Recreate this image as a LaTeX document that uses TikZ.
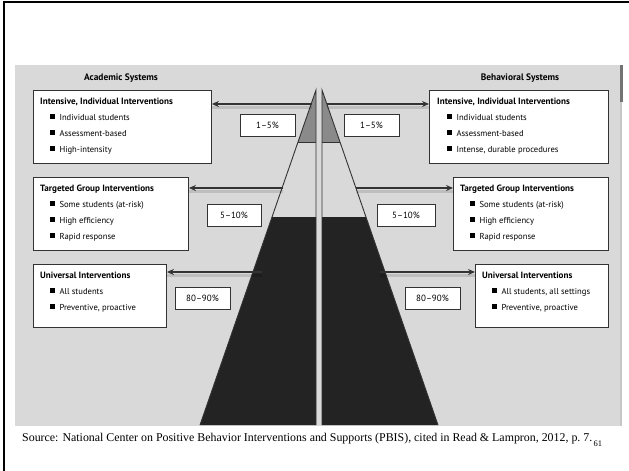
\documentclass[tikz,border=0pt]{standalone}
\usepackage{fontspec}
\setmainfont{Liberation Serif}
\newfontfamily\panelfont{PT Sans}
\usetikzlibrary{arrows.meta}
\definecolor{panel}{HTML}{D9D9D9}
\definecolor{edge}{HTML}{333333}
\definecolor{tipgray}{HTML}{8A8A8A}
\definecolor{basedark}{HTML}{232323}
\newcommand{\bul}{\rule[0.3ex]{4.8pt}{4.8pt}\hspace{4.5pt}}

\begin{document}
\begin{tikzpicture}[x=1pt,y=-1pt,
  infobox/.style={draw=edge, line width=0.9pt, fill=white},
  pctbox/.style={draw=edge, line width=0.9pt, fill=white, minimum height=22pt,
    inner sep=0, font=\panelfont\fontsize{9}{10}\selectfont},
  head/.style={anchor=base west, font=\panelfont\bfseries\fontsize{9.1}{10}\selectfont, inner sep=0},
  item/.style={anchor=base west, font=\panelfont\fontsize{8.6}{9}\selectfont, inner sep=0},
  systitle/.style={font=\panelfont\bfseries\fontsize{9.4}{10}\selectfont, inner sep=0},
  pointer/.style={draw=edge, line width=1.4pt, -{Stealth[length=7pt,width=6pt]}},
  pshadow/.style={draw=black, line width=3pt, opacity=0.12},
  outline/.style={draw=edge, line width=0.9pt}
]
\useasboundingbox (0,0) rectangle (629,471);
\fill[white] (0,0) rectangle (629,471);
% slide frame
\draw[line width=2.5pt] (4,471) -- (4,2) -- (629,2);
% grey panel and its scroll strip
\fill[panel] (15,65) rectangle (622,426);
\fill[black!55] (620,65) rectangle (623,102);
\fill[black!22] (620,102) rectangle (622,426);

% column headings
\node[systitle] (acad) at (121,78) {Academic Systems};
\node[systitle] (behav) at (520,78) {Behavioral Systems};

% ---------- pyramid, left half ----------
\coordinate (LA) at (316,90);
\coordinate (LB) at (200,425);
\coordinate (LF) at (316,425);
\fill[tipgray] (LA) -- (298,142) -- (316,142) -- cycle;
\fill[basedark] (272.1,217) -- (LB) -- (LF) -- (316,217) -- cycle;
\draw[outline] (LF) -- (LA) -- (LB);
\draw[outline] (298,142) -- (316,142);

% ---------- pyramid, right half ----------
\coordinate (RA) at (322,90);
\coordinate (RB) at (438,425);
\coordinate (RF) at (322,425);
\fill[tipgray] (RA) -- (340,142) -- (322,142) -- cycle;
\fill[basedark] (365.9,217) -- (RB) -- (RF) -- (322,217) -- cycle;
\draw[outline] (RF) -- (RA) -- (RB);
\draw[outline] (340,142) -- (322,142);

% arrow start points on the pyramid
\coordinate (l1) at (311.5,104);
\coordinate (l2) at (283,188);
\coordinate (l3) at (262,272);
\coordinate (r1) at (326.5,104);
\coordinate (r2) at (356,188);
\coordinate (r3) at (380,272);

% ---------- academic boxes ----------
\node[infobox, minimum width=178pt, minimum height=73pt, anchor=north west] (ai) at (33,90) {};
\node[head] (aih) at (40,104) {Intensive, Individual Interventions};
\node[item] (ai1) at (50,120) {\bul Individual students};
\node[item] (ai2) at (50,136) {\bul Assessment-based};
\node[item] (ai3) at (50,152) {\bul High-intensity};

\node[infobox, minimum width=155pt, minimum height=73pt, anchor=north west] (at) at (33,177) {};
\node[head] (ath) at (40,191) {Targeted Group Interventions};
\node[item] (at1) at (50,207) {\bul Some students (at-risk)};
\node[item] (at2) at (50,223) {\bul High efficiency};
\node[item] (at3) at (50,239) {\bul Rapid response};

\node[infobox, minimum width=133pt, minimum height=63pt, anchor=north west] (au) at (33,264) {};
\node[head] (auh) at (40,278) {Universal Interventions};
\node[item] (au1) at (50,294) {\bul All students};
\node[item] (au2) at (50,310) {\bul Preventive, proactive};

% ---------- behavioral boxes ----------
\node[infobox, minimum width=179pt, minimum height=73pt, anchor=north west] (bi) at (429,90) {};
\node[head] (bih) at (437,104) {Intensive, Individual Interventions};
\node[item] (bi1) at (447,120) {\bul Individual students};
\node[item] (bi2) at (447,136) {\bul Assessment-based};
\node[item] (bi3) at (447,152) {\bul Intense, durable procedures};

\node[infobox, minimum width=155pt, minimum height=73pt, anchor=north west] (bt) at (453,177) {};
\node[head] (bth) at (460,191) {Targeted Group Interventions};
\node[item] (bt1) at (470,207) {\bul Some students (at-risk)};
\node[item] (bt2) at (470,223) {\bul High efficiency};
\node[item] (bt3) at (470,239) {\bul Rapid response};

\node[infobox, minimum width=133pt, minimum height=63pt, anchor=north west] (bu) at (475,264) {};
\node[head] (buh) at (482,278) {Universal Interventions};
\node[item] (bu1) at (492,294) {\bul All students, all settings};
\node[item] (bu2) at (492,310) {\bul Preventive, proactive};

% ---------- percentage tags ----------
\node[pctbox, minimum width=55pt] (ap1) at (267.5,125) {1–5\%};
\node[pctbox, minimum width=54pt] (ap2) at (234,215) {5–10\%};
\node[pctbox, minimum width=55pt] (ap3) at (202.5,298.5) {80–90\%};
\node[pctbox, minimum width=55pt] (bp1) at (371.5,125) {1–5\%};
\node[pctbox, minimum width=58pt] (bp2) at (406,215) {5–10\%};
\node[pctbox, minimum width=55pt] (bp3) at (432.5,298.5) {80–90\%};

% ---------- pointers from the pyramid to the boxes ----------
\foreach \s/\t in {l1/ai, l2/at, l3/au}{
  \draw[pshadow] ([yshift=-3pt]\s) -- ([yshift=-3pt]\t.east |- \s);
  \draw[pointer] (\s) -- (\t.east |- \s);
}
\foreach \s/\t in {r1/bi, r2/bt, r3/bu}{
  \draw[pshadow] ([yshift=-3pt]\s) -- ([yshift=-3pt]\t.west |- \s);
  \draw[pointer] (\s) -- (\t.west |- \s);
}

% ---------- source line ----------
\node[anchor=base west, inner sep=0, font=\fontsize{11.9}{13}\selectfont] (src) at (22,441)
  {Source: National Center on Positive Behavior Interventions and Supports (PBIS), cited in Read \& Lampron, 2012, p.~7.};
\node[anchor=base west, inner sep=0, font=\fontsize{8.5}{9}\selectfont] (pg) at ([xshift=1pt,yshift=-5pt]src.base east) {61};
\end{tikzpicture}
\end{document}
